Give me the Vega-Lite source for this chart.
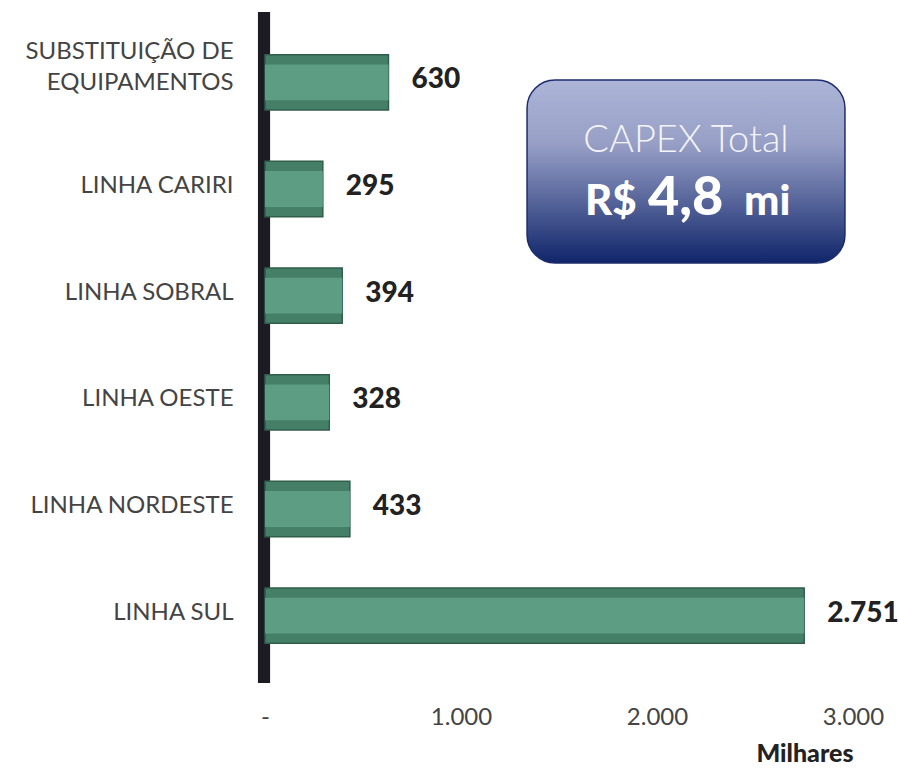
{
  "$schema": "https://vega.github.io/schema/vega-lite/v6.json",
  "width": 588,
  "height": 640,
  "autosize": {"type": "none"},
  "padding": {"left": 265, "top": 29, "right": 46, "bottom": 101},
  "background": "#ffffff",
  "config": {"view": {"stroke": null}, "font": "Lato"},
  "datasets": {
    "bars": [
      {"categoria": "SUBSTITUIÇÃO DE EQUIPAMENTOS", "valor": 630, "rotulo": "630"},
      {"categoria": "LINHA CARIRI", "valor": 295, "rotulo": "295"},
      {"categoria": "LINHA SOBRAL", "valor": 394, "rotulo": "394"},
      {"categoria": "LINHA OESTE", "valor": 328, "rotulo": "328"},
      {"categoria": "LINHA NORDESTE", "valor": 433, "rotulo": "433"},
      {"categoria": "LINHA SUL", "valor": 2751, "rotulo": "2.751"}
    ],
    "wall": [{"x1": -36, "x2": 26, "y1": -17, "y2": 654}],
    "box": [{"x1": 1337, "x2": 2959, "y1": 51, "y2": 234}],
    "boxtext": [
      {"parte": "titulo", "texto": "CAPEX Total", "x": 2148, "y": 123},
      {"parte": "rs", "texto": "R$", "x": 1633, "y": 186},
      {"parte": "num", "texto": "4,8", "x": 1954, "y": 186},
      {"parte": "mi", "texto": "mi", "x": 2444, "y": 186}
    ]
  },
  "layer": [
    {
      "layer": [
        {
          "data": {"name": "wall"},
          "mark": {"type": "rect", "fill": "#1c1a22"},
          "encoding": {
            "x": {"field": "x1", "type": "quantitative"},
            "x2": {"field": "x2"},
            "y": {"field": "y1", "type": "quantitative", "scale": {"domain": [0, 640], "reverse": true, "nice": false}, "axis": null},
            "y2": {"field": "y2"}
          }
        },
        {
          "data": {"name": "box"},
          "mark": {
            "type": "rect",
            "cornerRadius": 28,
            "stroke": "#1c2d6e",
            "strokeWidth": 1.5,
            "fill": {
              "gradient": "linear", "x1": 0, "y1": 0, "x2": 0, "y2": 1,
              "stops": [
                {"offset": 0, "color": "#acb5d7"},
                {"offset": 0.35, "color": "#979fc6"},
                {"offset": 1, "color": "#10256a"}
              ]
            }
          },
          "encoding": {
            "x": {"field": "x1", "type": "quantitative"},
            "x2": {"field": "x2"},
            "y": {"field": "y1", "type": "quantitative"},
            "y2": {"field": "y2"}
          }
        },
        {
          "data": {"name": "boxtext"},
          "transform": [{"filter": "datum.parte == 'titulo'"}],
          "mark": {"type": "text", "align": "center", "baseline": "alphabetic", "font": "Lato", "fontSize": 38, "fontWeight": 300, "fill": "#f4f4f8"},
          "encoding": {
            "x": {"field": "x", "type": "quantitative"},
            "y": {"field": "y", "type": "quantitative"},
            "text": {"field": "texto"}
          }
        },
        {
          "data": {"name": "boxtext"},
          "transform": [{"filter": "datum.parte == 'rs' || datum.parte == 'mi'"}],
          "mark": {"type": "text", "align": "left", "baseline": "alphabetic", "font": "Lato", "fontSize": 42, "fontWeight": 900, "fill": "#ffffff"},
          "encoding": {
            "x": {"field": "x", "type": "quantitative"},
            "y": {"field": "y", "type": "quantitative"},
            "text": {"field": "texto"}
          }
        },
        {
          "data": {"name": "boxtext"},
          "transform": [{"filter": "datum.parte == 'num'"}],
          "mark": {"type": "text", "align": "left", "baseline": "alphabetic", "font": "Lato", "fontSize": 54, "fontWeight": 900, "fill": "#ffffff"},
          "encoding": {
            "x": {"field": "x", "type": "quantitative"},
            "y": {"field": "y", "type": "quantitative"},
            "text": {"field": "texto"}
          }
        }
      ]
    },
    {
      "data": {"name": "bars"},
      "encoding": {
        "y": {
          "field": "categoria",
          "type": "nominal",
          "sort": null,
          "scale": {"paddingInner": 0.3, "paddingOuter": 0.15},
          "axis": {
            "orient": "left",
            "title": null,
            "ticks": false,
            "grid": false,
            "domain": false,
            "labelFont": "Lato",
            "labelFontSize": 24,
            "labelFontWeight": 400,
            "labelColor": "#444444",
            "labelPadding": 32,
            "labelLineHeight": 31,
            "labelLimit": 260,
            "labelOffset": {"condition": {"test": "datum.value == 'SUBSTITUIÇÃO DE EQUIPAMENTOS'", "value": -30}, "value": -3},
            "labelExpr": "datum.value == 'SUBSTITUIÇÃO DE EQUIPAMENTOS' ? ['SUBSTITUIÇÃO DE', 'EQUIPAMENTOS'] : datum.value"
          }
        },
        "x": {
          "field": "valor",
          "type": "quantitative",
          "scale": {"domain": [0, 3000], "nice": false},
          "axis": {
            "orient": "bottom",
            "values": [0, 1000, 2000, 3000],
            "title": "Milhares",
            "titleFont": "Lato",
            "titleFontSize": 25,
            "titleFontWeight": 900,
            "titleColor": "#222222",
            "titleAnchor": "end",
            "titleAlign": "right",
            "titlePadding": 12,
            "grid": false,
            "ticks": false,
            "domain": false,
            "labelFont": "Lato",
            "labelFontSize": 24,
            "labelFontWeight": 400,
            "labelColor": "#444444",
            "labelPadding": 36,
            "labelFlush": false,
            "labelExpr": "datum.value == 0 ? '-' : replace(format(datum.value, ','), ',', '.')"
          }
        }
      },
      "layer": [
        {
          "mark": {"type": "bar", "height": {"band": 0.74}, "fill": "#457f67", "stroke": "#2f5e4b", "strokeWidth": 1.5}
        },
        {
          "mark": {"type": "bar", "height": {"band": 0.48}, "fill": "#5d9d84"}
        },
        {
          "mark": {"type": "text", "align": "left", "baseline": "middle", "dx": 23, "dy": -2, "font": "Lato", "fontSize": 28, "fontWeight": 900, "fill": "#222222"},
          "encoding": {"text": {"field": "rotulo", "type": "nominal"}}
        }
      ]
    }
  ],
  "resolve": {"scale": {"y": "independent"}}
}
